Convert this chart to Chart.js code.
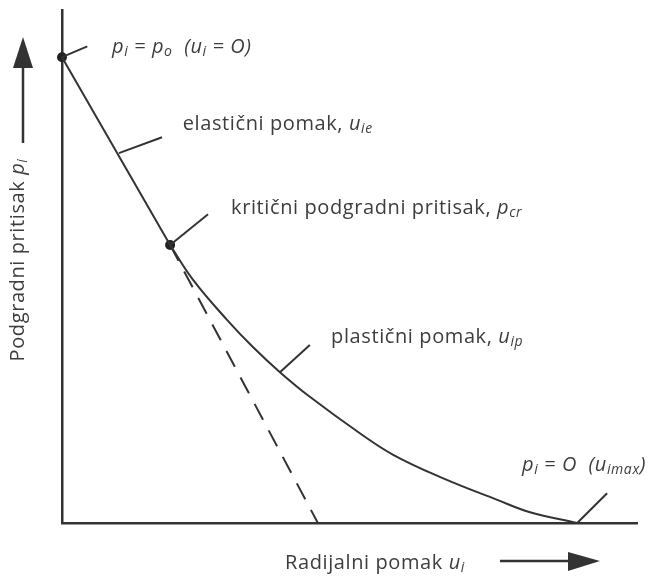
<!DOCTYPE html>
<html>
<head>
<meta charset="utf-8">
<script src="https://cdn.jsdelivr.net/npm/chart.js@4"></script>
<style>
  body { margin: 0; background: #fff; }
  #wrap { width: 649px; height: 576px; }
</style>
</head>
<body>
<div id="wrap"><canvas id="c" width="649" height="576"></canvas></div>
<script>
// radial displacement u (x) vs support pressure p (y), schematic units 0..100
const elasticU = [0, 18.8];
const elasticP = [90.8, 54.2];

const plasticU = [18.8, 22.8, 28.7, 33.2, 37.9, 43.1, 51.8, 57.6, 65.7, 75.7, 81.4, 89.6];
const plasticP = [54.2, 47.4, 39.6, 34.3, 29.4, 24.6, 17.5, 13.3, 9.0, 4.5, 2.1, 0];

const tangentU = [18.8, 44.5];
const tangentP = [54.2, 0];

const markU = [0, 18.8];
const markP = [90.8, 54.2];

// short pointer lines from the curve to each note: [u0, p0, u1, p1]
const pointers = [
  [0, 90.8, 4.4, 92.9],
  [9.9, 72.1, 17.4, 75.2],
  [18.8, 54.2, 25.4, 60.2],
  [37.9, 29.4, 43.1, 34.7],
  [89.6, 0, 94.8, 5.8],
];

// notes: anchor [u, p] of the baseline start, and text runs
// each run: [text, italic, subscript]
const noteAt = [
  [8.7, 91.6],
  [21.0, 76.6],
  [29.4, 60.3],
  [46.8, 35.1],
  [80.0, 10.1],
];
const noteRuns = [
  [["p", 1, 0], ["i", 1, 1], [" = p", 1, 0], ["o", 1, 1], ["  (u", 1, 0], ["i", 1, 1], [" = O)", 1, 0]],
  [["elastični pomak, ", 0, 0], ["u", 1, 0], ["ie", 1, 1]],
  [["kritični podgradni pritisak, ", 0, 0], ["p", 1, 0], ["cr", 1, 1]],
  [["plastični pomak, ", 0, 0], ["u", 1, 0], ["ip", 1, 1]],
  [["p", 1, 0], ["i", 1, 1], [" = O  (u", 1, 0], ["imax", 1, 1], [")", 1, 0]],
];

const xTitleRuns = [["Radijalni pomak ", 0, 0], ["u", 1, 0], ["i", 1, 1]];
const yTitleRuns = [["Podgradni pritisak ", 0, 0], ["p", 1, 0], ["i", 1, 1]];

const INK = "#333333";
const TXT = "#3d3d3d";
const FONT = "'Open Sans', sans-serif";
const SIZE = 20;
const SPACING = 0.6;

const toPts = (us, ps) => us.map((u, i) => ({ x: u, y: ps[i] }));

function setRunFont(c, it, sub, size) {
  const fs = sub ? Math.round(size * 0.68) : size;
  c.font = `${it ? "italic " : ""}${fs}px ${FONT}`;
}

function drawRuns(c, x, y, runs, size) {
  let cx = x;
  c.letterSpacing = SPACING + "px";
  runs.forEach(([t, it, sub]) => {
    setRunFont(c, it, sub, size);
    c.fillText(t, cx, sub ? y + 3 : y);
    cx += c.measureText(t).width;
  });
  return cx - x;
}

function runsWidth(c, runs, size) {
  let w = 0;
  c.letterSpacing = SPACING + "px";
  runs.forEach(([t, it, sub]) => {
    setRunFont(c, it, sub, size);
    w += c.measureText(t).width;
  });
  return w;
}

const notesPlugin = {
  id: "notes",
  afterDraw(chart) {
    const { ctx: c, scales: { x, y }, chartArea: a } = chart;
    c.save();
    c.fillStyle = TXT;
    c.textBaseline = "alphabetic";
    c.textAlign = "left";

    noteAt.forEach(([u, p], i) => {
      drawRuns(c, x.getPixelForValue(u), y.getPixelForValue(p), noteRuns[i], SIZE);
    });

    // x title + arrow
    drawRuns(c, a.left + 223, a.bottom + 46, xTitleRuns, SIZE);
    c.letterSpacing = "0px";
    c.strokeStyle = INK;
    c.fillStyle = INK;
    c.lineWidth = 2.5;
    c.beginPath();
    c.moveTo(a.left + 438, a.bottom + 38);
    c.lineTo(a.left + 510, a.bottom + 38);
    c.stroke();
    c.beginPath();
    c.moveTo(a.left + 506, a.bottom + 29);
    c.lineTo(a.left + 538, a.bottom + 38);
    c.lineTo(a.left + 506, a.bottom + 48);
    c.closePath();
    c.fill();

    // y title + arrow
    c.save();
    c.translate(a.left - 38, a.top + 250);
    c.rotate(-Math.PI / 2);
    c.fillStyle = TXT;
    const w = runsWidth(c, yTitleRuns, SIZE);
    drawRuns(c, -w / 2, 0, yTitleRuns, SIZE);
    c.restore();
    c.letterSpacing = "0px";
    c.beginPath();
    c.moveTo(a.left - 39, a.top + 133);
    c.lineTo(a.left - 39, a.top + 55);
    c.stroke();
    c.beginPath();
    c.moveTo(a.left - 49, a.top + 58);
    c.lineTo(a.left - 39, a.top + 27);
    c.lineTo(a.left - 29, a.top + 58);
    c.closePath();
    c.fill();
    c.restore();
  },
};

const lineDs = (data, extra) => Object.assign({
  data,
  showLine: true,
  borderColor: INK,
  borderWidth: 2,
  pointRadius: 0,
  tension: 0,
  clip: false,
}, extra);

const datasets = [
  lineDs(toPts(elasticU, elasticP)),
  lineDs(toPts(plasticU, plasticP), { tension: 0.4 }),
  lineDs(toPts(tangentU, tangentP), { borderDash: [18, 12] }),
  ...pointers.map(([u0, p0, u1, p1]) => lineDs([{ x: u0, y: p0 }, { x: u1, y: p1 }])),
  {
    data: toPts(markU, markP),
    showLine: false,
    pointRadius: 5,
    pointBackgroundColor: "#222",
    pointBorderWidth: 0,
    clip: false,
  },
];

new Chart(document.getElementById("c"), {
  type: "scatter",
  data: { datasets },
  plugins: [notesPlugin],
  options: {
    responsive: false,
    animation: false,
    layout: { padding: { left: 62, right: 12, top: 10, bottom: 53 } },
    plugins: { legend: { display: false }, tooltip: { enabled: false } },
    scales: {
      x: {
        type: "linear", min: 0, max: 100,
        grid: { display: false, drawTicks: false },
        ticks: { display: false },
        border: { display: true, color: INK, width: 2.5 },
      },
      y: {
        type: "linear", min: 0, max: 100,
        grid: { display: false, drawTicks: false },
        ticks: { display: false },
        border: { display: true, color: INK, width: 2.5 },
      },
    },
  },
});
</script>
</body>
</html>
